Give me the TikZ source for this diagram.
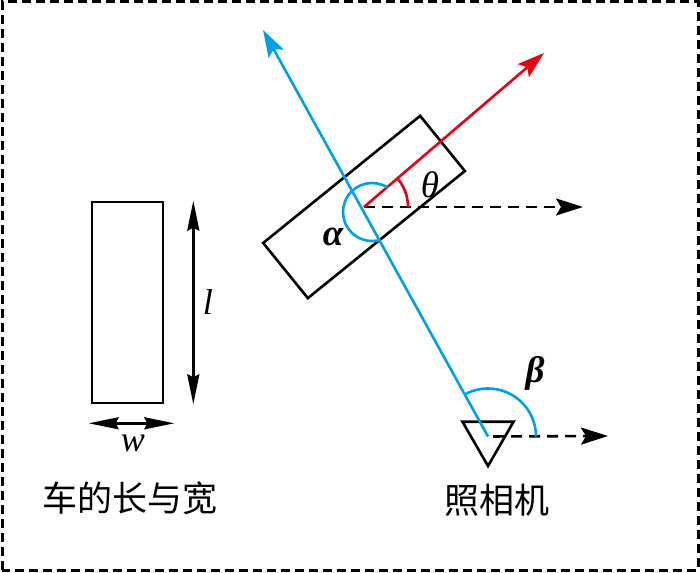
\documentclass[tikz,border=0pt]{standalone}
\usepackage{fontspec}
\setmainfont{Liberation Serif}
\newfontfamily\cjk{Noto Sans CJK SC}
\usetikzlibrary{arrows.meta,positioning,shapes.geometric}
\definecolor{camblue}{RGB}{0,160,233}
\definecolor{headred}{RGB}{230,0,18}
\begin{document}
\begin{tikzpicture}[x=1pt, y=1pt, line width=2.6pt, font=\fontsize{37}{39}\selectfont,
		>={Stealth[length=27pt,width=17pt,inset=5pt]},
		blueline/.style={camblue, line width=2.6pt},
		redline/.style={headred, line width=2.6pt},
		dasharrow/.style={->, dash pattern=on 11pt off 7pt},
		dimarrow/.style={{Stealth[length=30pt,width=12pt,inset=3pt]}-{Stealth[length=30pt,width=12pt,inset=3pt]}},
		cjklabel/.style={font=\cjk\fontsize{35}{37}\selectfont}]
				\useasboundingbox (0,0) rectangle (700,572);
				\draw[line width=3pt, dash pattern=on 9pt off 5pt] (2,2) rectangle (698,570);
				% car size
				\node[draw, minimum width=71pt, minimum height=201pt, inner sep=0pt] (box) at (127.5,269.5) {};
				\draw[dimarrow] ([xshift=29pt]box.north east)--([xshift=29pt]box.south east) node[midway, right=5pt, font=\fontsize{36}{38}\selectfont\itshape] {l};
				\draw[dimarrow] ([xshift=-2pt,yshift=-19pt]box.south west)--([xshift=10pt,yshift=-19pt]box.south east);
				\node[font=\fontsize{36}{38}\selectfont\itshape] (wlabel) at (133,129) {w};
				\node[cjklabel] (boxname) at (130,74) {车的长与宽};
				% car
				\node[draw, minimum width=202pt, minimum height=71pt, inner sep=0pt, rotate=39] (car) at (364,365) {};
				\coordinate (head) at (544,519);\coordinate (cardir) at (583,365);
				\draw[dasharrow] (car.center)--(cardir);
				\draw[redline,->] (car.center)--(head);
				\draw[redline] (car.center) ++(44,0) arc[start angle=0, end angle=40, radius=44];
				\node (theta) at (430,387) {\itshape θ};
				% camera
				\node[draw, regular polygon, regular polygon sides=3, shape border rotate=180, minimum size=59pt, inner sep=0pt] (cam) at (488,135.5) {};
				\coordinate (camtip) at (263,542);\coordinate (camdir) at (608,136);
				\draw[dasharrow, shorten <=5pt] (cam.center)--(camdir);
				\draw[blueline,->] (cam.center)--(camtip);
				\draw[blueline] (cam.center) ++(48,0) arc[start angle=0, end angle=119, radius=48];
				\draw[blueline] (car.center) ++(8,-5) ++(57:29) arc[start angle=57, end angle=287, radius=29];
				\node (alpha) at (333,335) {\itshape\bfseries α};
				\node (beta) at (535,199) {\itshape\bfseries β};
				\node[cjklabel] (camname) at (497,72) {照相机};
	\end{tikzpicture}
\end{document}
